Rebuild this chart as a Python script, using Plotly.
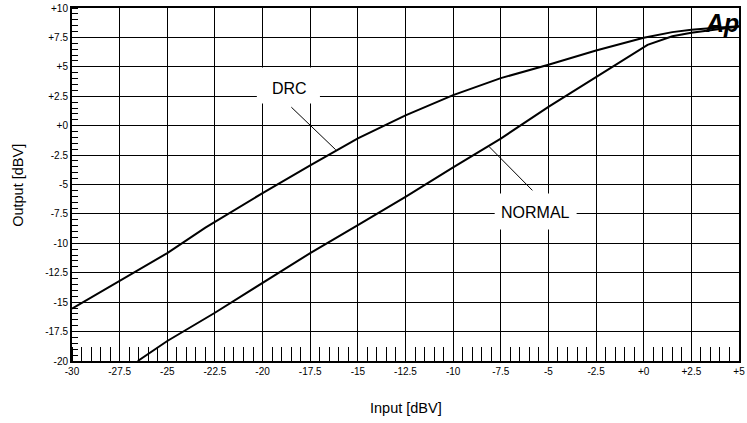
import plotly.graph_objects as go

# ---- data ----
drc_x = [-30, -27.5, -25, -23, -20, -17.5, -15, -12.5, -10, -7.5, -5, -2.5, 0, 1.5, 2.5, 3.8, 5]
drc_y = [-15.55, -13.2, -10.83, -8.67, -5.73, -3.38, -1.08, 0.87, 2.6, 4.04, 5.17, 6.39, 7.47, 7.95, 8.15, 8.32, 8.45]

normal_x = [-26.55, -25, -22.5, -20, -17.5, -15, -12.5, -10, -7.5, -5, -2.5, 0.2, 1.5, 2.5, 3.8, 5]
normal_y = [-20, -18.3, -15.9, -13.35, -10.83, -8.45, -6.05, -3.55, -1.1, 1.6, 4.1, 6.87, 7.6, 7.89, 8.17, 8.42]

x_ticks = [-30, -27.5, -25, -22.5, -20, -17.5, -15, -12.5, -10, -7.5, -5, -2.5, 0, 2.5, 5]
x_labels = ["-30", "-27.5", "-25", "-22.5", "-20", "-17.5", "-15", "-12.5", "-10",
            "-7.5", "-5", "-2.5", "+0", "+2.5", "+5"]
y_ticks = [-20, -17.5, -15, -12.5, -10, -7.5, -5, -2.5, 0, 2.5, 5, 7.5, 10]
y_labels = ["-20", "-17.5", "-15", "-12.5", "-10", "-7.5", "-5", "-2.5", "+0",
            "+2.5", "+5", "+7.5", "+10"]

FONT = "Liberation Sans, Arial, Helvetica, sans-serif"

fig = go.Figure()
fig.add_trace(go.Scatter(x=drc_x, y=drc_y, mode="lines", name="DRC",
                         line=dict(color="black", width=2), showlegend=False))
fig.add_trace(go.Scatter(x=normal_x, y=normal_y, mode="lines", name="NORMAL",
                         line=dict(color="black", width=2), showlegend=False))

# label boxes (white) and leader lines
shapes = [
    dict(type="rect", xref="x", yref="y", x0=-20.3, x1=-16.99, y0=1.89, y1=4.95,
         fillcolor="white", line=dict(width=0), layer="above"),
    dict(type="rect", xref="x", yref="y", x0=-7.82, x1=-3.52, y0=-8.82, y1=-5.76,
         fillcolor="white", line=dict(width=0), layer="above"),
    dict(type="line", xref="x", yref="y", x0=-18.49, y0=1.57, x1=-16.16, y1=-2.05,
         line=dict(color="black", width=1), layer="above"),
    dict(type="line", xref="x", yref="y", x0=-5.84, y0=-5.5, x1=-8.12, y1=-1.77,
         line=dict(color="black", width=1), layer="above"),
]

annotations = [
    dict(x=-18.6, y=3.2, xref="x", yref="y", text="DRC", showarrow=False,
         font=dict(family=FONT, size=16, color="black")),
    dict(x=-5.67, y=-7.37, xref="x", yref="y", text="NORMAL", showarrow=False,
         font=dict(family=FONT, size=16, color="black")),
    dict(x=1.0, y=1.0, xref="paper", yref="paper", xanchor="right", yanchor="top",
         text="<b><i>Ap</i></b>", showarrow=False, xshift=2, yshift=1,
         font=dict(family=FONT, size=25, color="black")),
    dict(x=0.5, y=-0.133, xref="paper", yref="paper", xanchor="center", yanchor="middle",
         text="Input [dBV]", showarrow=False,
         font=dict(family=FONT, size=14.5, color="black")),
    dict(x=-0.081, y=0.499, xref="paper", yref="paper", xanchor="center", yanchor="middle",
         text="Output [dBV]", showarrow=False, textangle=-90,
         font=dict(family=FONT, size=14.5, color="black")),
]

fig.update_layout(
    width=747, height=423,
    margin=dict(l=72, r=8, t=8, b=62, autoexpand=False),
    paper_bgcolor="white", plot_bgcolor="white",
    font=dict(family=FONT, size=10, color="black"),
    shapes=shapes, annotations=annotations,
    xaxis=dict(
        range=[-30, 5], tickmode="array", tickvals=x_ticks, ticktext=x_labels,
        automargin=False,
        showgrid=True, gridcolor="black", gridwidth=1, zeroline=False,
        showline=True, linecolor="black", linewidth=2, mirror=True,
        ticks="", tickfont=dict(family=FONT, size=10, color="black"),
        minor=dict(tick0=0, dtick=0.5, ticks="inside", ticklen=14,
                   tickcolor="black", tickwidth=1, showgrid=False),
    ),
    yaxis=dict(
        range=[-20, 10], tickmode="array", tickvals=y_ticks, ticktext=y_labels,
        automargin=False,
        showgrid=True, gridcolor="black", gridwidth=1, zeroline=False,
        showline=True, linecolor="black", linewidth=2, mirror=True,
        ticks="", tickfont=dict(family=FONT, size=10, color="black"),
        minor=dict(tick0=0, dtick=0.5, ticks="inside", ticklen=6,
                   tickcolor="black", tickwidth=1, showgrid=False),
    ),
)

fig.write_html("out.html", config={"displayModeBar": False},
               post_script="document.body.style.margin='0';document.body.style.overflow='hidden';")
